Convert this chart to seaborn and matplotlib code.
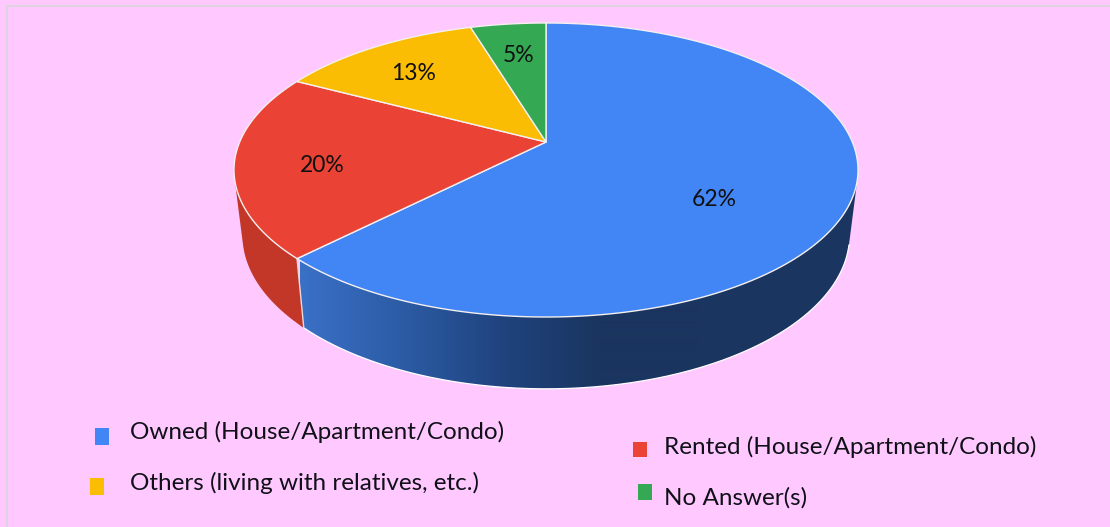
#!/usr/bin/env python3

import numpy as np
import matplotlib
matplotlib.use('Agg')
import matplotlib.pyplot as plt
import seaborn as sns

categories = ['Owned (House/Apartment/Condo)', 'Rented (House/Apartment/Condo)',
              'Others (living with relatives, etc.)', 'No Answer(s)']
shares = [62.4, 20.3, 12.6, 4.7]
pct_labels = ['62%', '20%', '13%', '5%']
colors = ['#4285F4', '#EA4335', '#FBBC04', '#34A853']

# positions in picture pixels
pct_xy = [(714, 199), (322, 166), (414, 73), (519, 56)]
legend_text_xy = [(130, 432), (664, 447), (130, 483), (664, 498)]
legend_box = [(95, 428, 14, 17), (633, 442, 14, 15), (90, 478, 14, 17), (638, 484, 14, 16)]

BG = '#FFC9FF'
PERSP = 0.1905
TOP = dict(cx=546, apex=142, a=141.67, b=306.3)
BOTTOM = dict(cx=546, apex=206, a=148.0, b=298.0)

sns.set_theme(style='white')
plt.rcParams['font.family'] = ['Lato', 'DejaVu Sans']


def project(theta, face, r=1.0):
    # circle seen in perspective, theta clockwise from 12 o'clock
    d = 1 + PERSP * r * np.cos(theta)
    x = face['cx'] + face['b'] * r * np.sin(theta) / d
    y = face['apex'] - face['a'] * r * np.cos(theta) / d
    return x, y


def hull(points):
    # monotone chain, gives the outline around both faces
    pts = sorted(map(tuple, points))
    def half(seq):
        out = []
        for p in seq:
            while len(out) > 1:
                (x0, y0), (x1, y1) = out[-2], out[-1]
                if (x1 - x0) * (p[1] - y0) - (y1 - y0) * (p[0] - x0) <= 0:
                    out.pop()
                else:
                    break
            out.append(p)
        return out[:-1]
    return np.array(half(pts) + half(pts[::-1]))


fig = plt.figure(figsize=(11.10, 5.27), dpi=100, facecolor=BG)
ax = fig.add_axes([0, 0, 1, 1])
ax.set_facecolor(BG)
ax.axis('off')

edges = 2 * np.pi * np.cumsum([0] + shares) / sum(shares)

# outline of the whole drum
th_all = np.linspace(0, 2 * np.pi, 720, endpoint=False)
outline = hull(np.r_[np.c_[project(th_all, TOP)], np.c_[project(th_all, BOTTOM)]])
drum = plt.Polygon(outline, closed=True, facecolor='none', edgecolor='none',
                   transform=ax.transData)
ax.add_patch(drum)

# side wall, blue runs light to dark left to right
blues = sns.blend_palette(['#3A70C6', '#2C5CA6', '#20447F', '#1A355F', '#1A355F'], 400)
ramp = np.array(blues)[None, :, :]
wall = ax.imshow(ramp, extent=(300, 700, 527, 0), aspect='auto', zorder=2, interpolation='bilinear')
wall.set_clip_path(drum)
# imshow only covers its extent, so pad the dark end to the right
pad = ax.fill([699, 1110, 1110, 699], [0, 0, 527, 527], color=blues[-1], lw=0, zorder=2)[0]
pad.set_clip_path(drum)

# red part of the wall, everything left of the divider
xt, yt = project(edges[1], TOP)
xb, yb = project(edges[1], BOTTOM)
red = ax.fill([0, xt, xt, xb, xb, 0], [0, 0, yt, yb, 527, 527], color='#C23728', lw=0, zorder=2.5)[0]
red.set_clip_path(drum)

# white rim along the bottom of the wall and the divider
rim = outline[(outline[:, 0] >= xb) & (outline[:, 1] > 200)]
rim = rim[np.argsort(rim[:, 0])]
ax.plot(rim[:, 0], rim[:, 1], color='white', lw=0.9, zorder=3)
ax.plot([xt, xb], [yt, yb], color='#F0D8D8', lw=1.0, zorder=3)

# top face
for i, col in enumerate(colors):
    th = np.linspace(edges[i], edges[i + 1], 200)
    xs, ys = project(th, TOP)
    ax.fill(np.r_[TOP['cx'], xs], np.r_[TOP['apex'], ys], facecolor=col,
            edgecolor='#F4F0F0', lw=1.0, joinstyle='round', zorder=4)

for (x, y), lab in zip(pct_xy, pct_labels):
    ax.text(x, y, lab, ha='center', va='center', fontsize=16.5, color='#101010', zorder=5)

for (x, y), (bx, by, bw, bh), lab, col in zip(legend_text_xy, legend_box, categories, colors):
    ax.add_patch(plt.Rectangle((bx, by), bw, bh, facecolor=col, edgecolor='none', zorder=5))
    ax.text(x, y, lab, ha='left', va='center', fontsize=17.5, color='#101018', zorder=5)

# frame only shows on the top and left
ax.plot([6.5, 6.5, 1110], [527, 6, 6], color='#E0D2E0', lw=1.6, zorder=1)

ax.set_xlim(0, 1110)
ax.set_ylim(527, 0)

fig.savefig('out.png', dpi=100, facecolor=BG)
